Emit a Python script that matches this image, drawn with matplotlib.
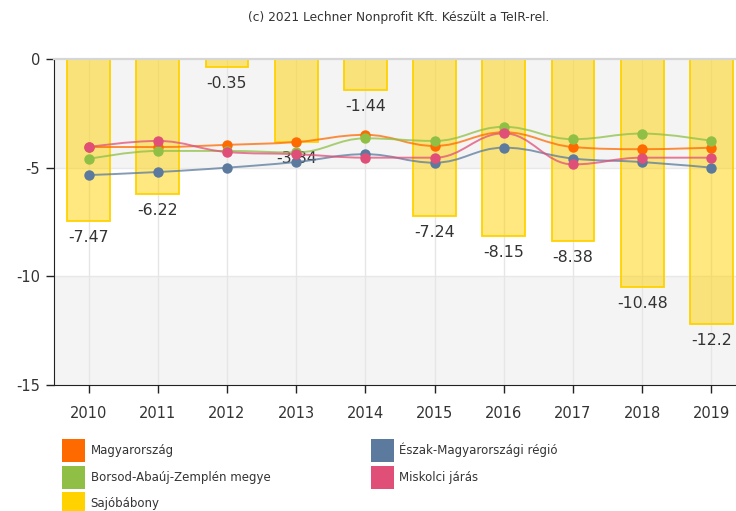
import numpy as np
import matplotlib
matplotlib.use("Agg")
import matplotlib.pyplot as plt
from matplotlib.path import Path
from matplotlib.patches import PathPatch, Patch

years = ["2010", "2011", "2012", "2013", "2014", "2015", "2016", "2017", "2018", "2019"]

# Sajóbábony (bars)
sajobabony = [-7.47, -6.22, -0.35, -3.84, -1.44, -7.24, -8.15, -8.38, -10.48, -12.2]

# line series
magyarorszag = [-4.05, -4.05, -3.95, -3.82, -3.49, -4.0, -3.37, -4.05, -4.15, -4.08]
eszak = [-5.34, -5.2, -5.0, -4.74, -4.38, -4.77, -4.08, -4.58, -4.74, -5.0]
borsod = [-4.6, -4.23, -4.23, -4.3, -3.65, -3.77, -3.12, -3.69, -3.43, -3.77]
miskolci = [-4.05, -3.77, -4.28, -4.38, -4.54, -4.54, -3.42, -4.85, -4.54, -4.54]

c_orange = "#ff6a00"
c_blue = "#5b7a9e"
c_green = "#8fc045"
c_pink = "#e04f78"
c_yellow = "#ffd200"
txt = "#333333"


def spline_path(xs, ys, smoothing=1.5):
    # cubic bezier through the points (Highcharts-like spline)
    n = len(xs)
    lc = [None] * n
    rc = [None] * n
    for i in range(n):
        if i == 0 or i == n - 1:
            lc[i] = (xs[i], ys[i])
            rc[i] = (xs[i], ys[i])
            continue
        lx = (smoothing * xs[i] + xs[i - 1]) / (smoothing + 1)
        ly = (smoothing * ys[i] + ys[i - 1]) / (smoothing + 1)
        rx = (smoothing * xs[i] + xs[i + 1]) / (smoothing + 1)
        ry = (smoothing * ys[i] + ys[i + 1]) / (smoothing + 1)
        corr = (ry - ly) * (rx - xs[i]) / (rx - lx) + ys[i] - ry
        ly += corr
        ry += corr
        # avoid false extremes
        if ly > ys[i - 1] and ly > ys[i]:
            ly = max(ys[i - 1], ys[i])
            ry = 2 * ys[i] - ly
        elif ly < ys[i - 1] and ly < ys[i]:
            ly = min(ys[i - 1], ys[i])
            ry = 2 * ys[i] - ly
        if ry > ys[i + 1] and ry > ys[i]:
            ry = max(ys[i + 1], ys[i])
            ly = 2 * ys[i] - ry
        elif ry < ys[i + 1] and ry < ys[i]:
            ry = min(ys[i + 1], ys[i])
            ly = 2 * ys[i] - ry
        lc[i] = (lx, ly)
        rc[i] = (rx, ry)
    verts = [(xs[0], ys[0])]
    codes = [Path.MOVETO]
    for i in range(n - 1):
        verts += [rc[i], lc[i + 1], (xs[i + 1], ys[i + 1])]
        codes += [Path.CURVE4] * 3
    return Path(verts, codes)


fig = plt.figure(figsize=(7.36, 5.11), dpi=100)
ax = fig.add_axes([54 / 736, 1 - 385 / 511, 692 / 736, 326 / 511])

x = np.arange(len(years))

ax.set_xlim(-0.5, len(years) - 0.5)
ax.set_ylim(-15, 0)

# alternating bands
ax.axhspan(-5, 0, color="#f4f4f4", zorder=0, lw=0)
ax.axhspan(-15, -10, color="#f4f4f4", zorder=0, lw=0)
for yv in [-5, -10]:
    ax.axhline(yv, color="#e8e8e8", lw=1, zorder=0.5)
for xv in x:
    ax.axvline(xv, color="#e6e6e6", lw=1, zorder=0.5)

ax.bar(x, sajobabony, width=0.62, color=c_yellow, alpha=0.5, zorder=1,
       edgecolor="none")
ax.bar(x, sajobabony, width=0.62, facecolor="none", edgecolor=c_yellow,
       lw=1.3, zorder=1.1)

for xi, v in zip(x, sajobabony):
    ax.annotate(f"{v:g}", (xi, v), xytext=(0, -6.5), textcoords="offset points",
                ha="center", va="top", fontsize=11.3, color=txt, zorder=2)

for vals, col in [(magyarorszag, c_orange), (eszak, c_blue),
                  (borsod, c_green), (miskolci, c_pink)]:
    p = spline_path(list(x.astype(float)), vals)
    ax.add_patch(PathPatch(p, facecolor="none", edgecolor=col, lw=1.4,
                           alpha=0.75, zorder=3))
    ax.plot(x, vals, "o", color=col, ms=7.5, zorder=4, mec="none")

ax.spines["right"].set_visible(False)
ax.spines["top"].set_color("#d6d6d6")
ax.spines["top"].set_linewidth(1.6)
ax.spines["left"].set_color("#222222")
ax.spines["bottom"].set_color("#222222")

ax.set_yticks([0, -5, -10, -15])
ax.set_yticklabels(["0", "-5", "-10", "-15"])
ax.set_xticks(x)
ax.set_xticklabels(years)
ax.tick_params(axis="y", length=6, width=1, color="#222222", labelsize=10.5,
               labelcolor=txt, pad=4)
ax.tick_params(axis="x", length=6, width=1, color="#222222", labelsize=10.5,
               labelcolor=txt, pad=9)

fig.text(399 / 736, 1 - 18 / 511, "(c) 2021 Lechner Nonprofit Kft. Készült a TeIR-rel.",
         ha="center", va="center", fontsize=8.8, color=txt)

handles = [Patch(facecolor=c_orange, label="Magyarország"),
           Patch(facecolor=c_green, label="Borsod-Abaúj-Zemplén megye"),
           Patch(facecolor=c_yellow, label="Sajóbábony"),
           Patch(facecolor=c_blue, label="Észak-Magyarországi régió"),
           Patch(facecolor=c_pink, label="Miskolci járás")]
fig.legend(handles=handles, ncol=2, loc="upper left",
           bbox_to_anchor=(62 / 736, 1 - 439 / 511), frameon=False,
           fontsize=8.5, labelcolor=txt, borderpad=0, borderaxespad=0,
           handlelength=1.95, handleheight=2.62, handletextpad=0.48,
           labelspacing=0.3, columnspacing=8.5)

fig.savefig("out.png", dpi=100)
